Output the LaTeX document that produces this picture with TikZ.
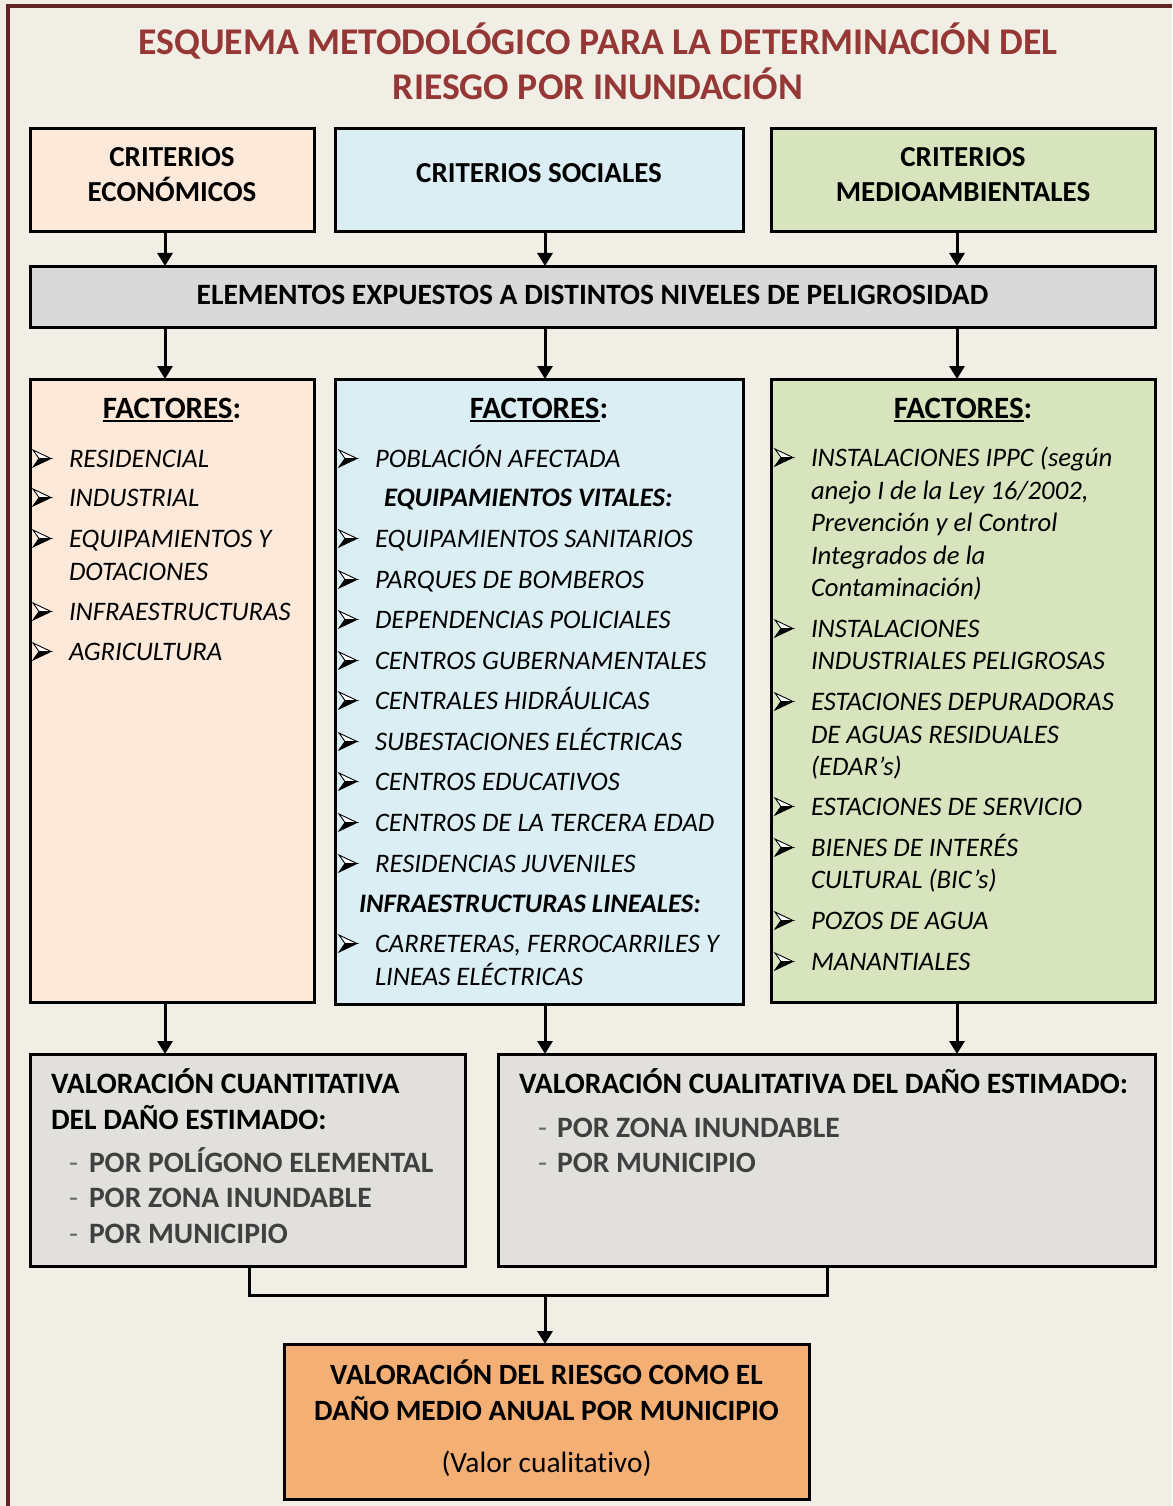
\documentclass[tikz,border=0pt]{standalone}
\usepackage{fontspec}
\setmainfont{Carlito}[Ligatures=NoCommon]
\usetikzlibrary{arrows.meta}

\definecolor{pagebg}{HTML}{F1EEE6}
\definecolor{framered}{HTML}{632523}
\definecolor{titlered}{HTML}{953735}
\definecolor{peach}{HTML}{FDE9D9}
\definecolor{lblue}{HTML}{DAEEF3}
\definecolor{lgreen}{HTML}{D7E4BD}
\definecolor{bargray}{HTML}{D9D9D9}
\definecolor{valgray}{HTML}{E1E0DC}
\definecolor{orangebox}{HTML}{F4B074}
\definecolor{itemgray}{HTML}{404040}
\definecolor{dashgray}{HTML}{6A6A6A}

\newcommand\fTitle{\fontsize{37.7}{46}\selectfont\bfseries}
\newcommand\fHead{\fontsize{29}{35}\selectfont\bfseries}
\newcommand\fFact{\fontsize{31}{36}\selectfont\bfseries}
\newcommand\fItem{\fontsize{26.7}{32}\selectfont\itshape}
\newcommand\fSub{\fontsize{26.7}{32}\selectfont\bfseries\itshape}
\newcommand\fBar{\fontsize{29.5}{35}\selectfont\bfseries}
\newcommand\fVal{\fontsize{29.6}{35}\selectfont\bfseries}
\newcommand\fFin{\fontsize{29.4}{35}\selectfont\bfseries}
\newcommand\fPlain{\fontsize{29.4}{35}\selectfont}
% underlined heading word, followed by a colon that is not underlined
\newcommand\headul[1]{\setbox0\hbox{#1}\rlap{\rule[-4pt]{\wd0}{2pt}}\box0}

\tikzset{
  every node/.style={inner sep=0pt, outer sep=0pt},
  box/.style={draw=black, line width=3pt, rectangle},
  arr/.style={line width=3pt, draw=black, -{Triangle[width=15pt,length=13pt]}},
  link/.style={line width=3pt, draw=black},
  titletxt/.style={anchor=base, font=\fTitle, text=titlered},
  headtxt/.style={anchor=base, font=\fHead},
  facttxt/.style={anchor=base, font=\fFact},
  bartxt/.style={anchor=base, font=\fBar},
  itm/.style={anchor=base west, font=\fItem},
  subhead/.style={anchor=base west, font=\fSub},
  valhead/.style={anchor=base west, font=\fVal},
  valitem/.style={anchor=base west, font=\fVal, text=itemgray},
  valdash/.style={anchor=base west, font=\fPlain, text=dashgray},
  fintxt/.style={anchor=base, font=\fFin},
  % list marker: arrowhead with light upper half and solid lower half
  arrowbullet/.pic={
    \filldraw[fill=white, draw=black, line width=0.9pt, line join=miter]
      (0,-17) -- (18,-8.5) -- (6,-8.5) -- cycle;
    \filldraw[fill=black, draw=black, line width=0.9pt, line join=miter]
      (0,0) -- (18,-8.5) -- (6,-8.5) -- cycle;
  },
}

% bullet + text line: name, x of text, baseline y, text
\newcommand\bitem[4]{%
  \pic at (#2-36,#3) {arrowbullet};
  \node[itm] (#1) at (#2,#3) {#4};}

\begin{document}
\begin{tikzpicture}[x=1pt,y=-1pt]
% page background and frame
\fill[pagebg] (0,0) rectangle (1172,1506);
\useasboundingbox (0,0) rectangle (1172,1506);
\draw[framered, line width=3.5pt] (8,1506) -- (8,6) -- (1172,6);

% title
\node[titletxt] (title1) at (598,55) {ESQUEMA METODOLÓGICO PARA LA DETERMINACIÓN DEL};
\node[titletxt] (title2) at (598,100) {RIESGO POR INUNDACIÓN};

% criteria boxes
\node[box, fill=peach, minimum width=284, minimum height=103] (eco) at (172,180.5) {};
\node[box, fill=lblue, minimum width=408, minimum height=103] (soc) at (539,180.5) {};
\node[box, fill=lgreen, minimum width=384, minimum height=103] (amb) at (963,180.5) {};
\node[headtxt] (eco1) at (172,167) {CRITERIOS};
\node[headtxt] (eco2) at (172,202) {ECONÓMICOS};
\node[headtxt] (soc1) at (539,183) {CRITERIOS SOCIALES};
\node[headtxt] (amb1) at (963,167) {CRITERIOS};
\node[headtxt] (amb2) at (963,202) {MEDIOAMBIENTALES};

% exposed elements bar
\node[box, fill=bargray, minimum width=1125, minimum height=61] (elem) at (592.5,296.5) {};
\node[bartxt] (elemtxt) at (592.5,304.5) {ELEMENTOS EXPUESTOS A DISTINTOS NIVELES DE PELIGROSIDAD};

% factor boxes
\node[box, fill=peach, minimum width=284, minimum height=623] (f1) at (172,690.5) {};
\node[box, fill=lblue, minimum width=408, minimum height=625] (f2) at (539,691.5) {};
\node[box, fill=lgreen, minimum width=384, minimum height=623] (f3) at (963,690.5) {};
\node[facttxt] (f1h) at (172,418) {\headul{FACTORES}:};
\node[facttxt] (f2h) at (539,418) {\headul{FACTORES}:};
\node[facttxt] (f3h) at (963,418) {\headul{FACTORES}:};

% economic factors
\bitem{a1}{69}{467}{RESIDENCIAL}
\bitem{a2}{69}{506}{INDUSTRIAL}
\bitem{a3}{69}{547}{EQUIPAMIENTOS Y}
\node[itm] (a3c) at (69,580) {DOTACIONES};
\bitem{a4}{69}{620}{INFRAESTRUCTURAS}
\bitem{a5}{69}{660}{AGRICULTURA}

% social factors
\bitem{b1}{375}{467}{POBLACIÓN AFECTADA}
\node[subhead] (b2) at (384,506) {EQUIPAMIENTOS VITALES:};
\bitem{b3}{375}{547}{EQUIPAMIENTOS SANITARIOS}
\bitem{b4}{375}{588}{PARQUES DE BOMBEROS}
\bitem{b5}{375}{628}{DEPENDENCIAS POLICIALES}
\bitem{b6}{375}{669}{CENTROS GUBERNAMENTALES}
\bitem{b7}{375}{709}{CENTRALES HIDRÁULICAS}
\bitem{b8}{375}{750}{SUBESTACIONES ELÉCTRICAS}
\bitem{b9}{375}{790}{CENTROS EDUCATIVOS}
\bitem{b10}{375}{831}{CENTROS DE LA TERCERA EDAD}
\bitem{b11}{375}{872}{RESIDENCIAS JUVENILES}
\node[subhead] (b12) at (359,912) {INFRAESTRUCTURAS LINEALES:};
\bitem{b13}{375}{952}{CARRETERAS, FERROCARRILES Y}
\node[itm] (b13c) at (375,985) {LINEAS ELÉCTRICAS};

% environmental factors
\bitem{c1}{811}{466}{INSTALACIONES IPPC (según}
\node[itm] (c1c) at (811,499) {anejo I de la Ley 16/2002,};
\node[itm] (c1d) at (811,531) {Prevención y el Control};
\node[itm] (c1e) at (811,564) {Integrados de la};
\node[itm] (c1f) at (811,596) {Contaminación)};
\bitem{c2}{811}{637}{INSTALACIONES}
\node[itm] (c2c) at (811,669) {INDUSTRIALES PELIGROSAS};
\bitem{c3}{811}{710}{ESTACIONES DEPURADORAS}
\node[itm] (c3c) at (811,743) {DE AGUAS RESIDUALES};
\node[itm] (c3d) at (811,775) {(EDAR’s)};
\bitem{c4}{811}{815}{ESTACIONES DE SERVICIO}
\bitem{c5}{811}{856}{BIENES DE INTERÉS}
\node[itm] (c5c) at (811,888) {CULTURAL (BIC’s)};
\bitem{c6}{811}{929}{POZOS DE AGUA}
\bitem{c7}{811}{970}{MANANTIALES}

% damage valuation boxes
\node[box, fill=valgray, minimum width=435, minimum height=212] (v1) at (247.5,1160) {};
\node[box, fill=valgray, minimum width=657, minimum height=212] (v2) at (826.5,1160) {};
\node[valhead] (v1h1) at (51,1093) {VALORACIÓN CUANTITATIVA};
\node[valhead] (v1h2) at (51,1129) {DEL DAÑO ESTIMADO:};
\node[valdash] (v1d1) at (69,1172) {-};
\node[valitem] (v1i1) at (89,1172) {POR POLÍGONO ELEMENTAL};
\node[valdash] (v1d2) at (69,1207) {-};
\node[valitem] (v1i2) at (89,1207) {POR ZONA INUNDABLE};
\node[valdash] (v1d3) at (69,1243) {-};
\node[valitem] (v1i3) at (89,1243) {POR MUNICIPIO};
\node[valhead] (v2h1) at (519,1093) {VALORACIÓN CUALITATIVA DEL DAÑO ESTIMADO:};
\node[valdash] (v2d1) at (538,1137) {-};
\node[valitem] (v2i1) at (557,1137) {POR ZONA INUNDABLE};
\node[valdash] (v2d2) at (538,1172) {-};
\node[valitem] (v2i2) at (557,1172) {POR MUNICIPIO};

% final risk box
\node[box, fill=orangebox, minimum width=525, minimum height=155] (fin) at (546.5,1421.5) {};
\node[fintxt] (fin1) at (546.5,1384) {VALORACIÓN DEL RIESGO COMO EL};
\node[fintxt] (fin2) at (546.5,1420) {DAÑO MEDIO ANUAL POR MUNICIPIO};
\node[anchor=base, font=\fPlain] (fin3) at (546.5,1472) {(Valor cualitativo)};

% connector columns
\coordinate (xa) at (165,0);
\coordinate (xb) at (545,0);
\coordinate (xc) at (957,0);
\coordinate (xl) at (249,0);
\coordinate (xr) at (827,0);
\coordinate (join) at (545,1295);

\draw[arr] (eco.south -| xa) -- (elem.north -| xa);
\draw[arr] (soc.south -| xb) -- (elem.north -| xb);
\draw[arr] (amb.south -| xc) -- (elem.north -| xc);
\draw[arr] (elem.south -| xa) -- (f1.north -| xa);
\draw[arr] (elem.south -| xb) -- (f2.north -| xb);
\draw[arr] (elem.south -| xc) -- (f3.north -| xc);
\draw[arr] (f1.south -| xa) -- (v1.north -| xa);
\draw[arr] (f2.south -| xb) -- (v2.north -| xb);
\draw[arr] (f3.south -| xc) -- (v2.north -| xc);
\draw[link] (v1.south -| xl) -- (join -| xl) -- (join -| xr) -- (v2.south -| xr);
\draw[arr] (join) -- (fin.north -| join);
\end{tikzpicture}
\end{document}
